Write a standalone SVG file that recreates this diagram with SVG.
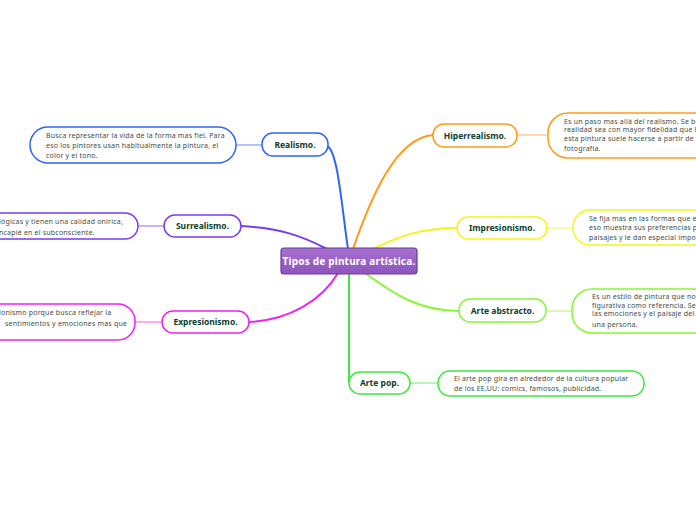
<svg xmlns="http://www.w3.org/2000/svg" width="696" height="520" viewBox="0 0 696 520">
<defs>
<linearGradient id="cg" x1="0" y1="0" x2="0" y2="1">
<stop offset="0" stop-color="#a870d0"/>
<stop offset="1" stop-color="#8e55bd"/>
</linearGradient>
<style>
.lbl{font-family:"Noto Sans","Open Sans",sans-serif;font-weight:bold;font-size:8.5px;fill:#0e3d2e;text-anchor:middle}
.dsc{font-family:"Noto Sans","Open Sans",sans-serif;font-size:7px;fill:#3f4d47;letter-spacing:0.2px}
.node{fill:#fff;stroke-width:1.5}
.main{fill:none;stroke-width:2}
.sub{fill:none;stroke-width:1.5;opacity:0.5}
</style>
</defs>
<rect width="696" height="520" fill="#fff"/>
<g id="connectors">
<path class="main" stroke="#2f66f5" d="M327,146 C338,150 342,210 348,249"/>
<path class="main" stroke="#7c3af0" d="M241,226 C280,228 302,236 327,249"/>
<path class="main" stroke="#ee22ee" d="M249,322 C290,320 322,300 338,273"/>
<path class="main" stroke="#ff9a1a" d="M353,249 C370,200 395,138 433,135"/>
<path class="main" stroke="#f5f51a" d="M373,249 C400,236 420,228 457,228"/>
<path class="main" stroke="#88f535" d="M365,273 C395,295 420,311 459,311"/>
<path class="main" stroke="#3ee83e" d="M349,273 L349,383"/>
<path class="sub" stroke="#2f66f5" d="M236,145 L262,145"/>
<path class="sub" stroke="#7c3af0" d="M138,226 L164,226"/>
<path class="sub" stroke="#ee22ee" d="M135,322 L162,322"/>
<path class="sub" stroke="#ff9a1a" d="M517,135 L548,135"/>
<path class="sub" stroke="#f5f51a" d="M547,228 L573,228"/>
<path class="sub" stroke="#88f535" d="M546,311 L572,311"/>
<path class="sub" stroke="#3ee83e" d="M410,383 L438,383"/>
</g>
<g id="center">
<rect x="281" y="248" width="136" height="26" rx="3" fill="url(#cg)" stroke="#6b3d93" stroke-width="1.2"/>
<text x="349" y="265" style="font-family:'Noto Sans','Open Sans',sans-serif;font-weight:bold;font-size:10px;fill:#fff;text-anchor:middle;letter-spacing:0.2px">Tipos de pintura artística.</text>
</g>
<g id="realismo">
<rect class="node" x="262" y="133" width="66" height="23" rx="11" stroke="#2f66f5"/>
<text class="lbl" x="295" y="148">Realismo.</text>
</g>
<g id="realismo-desc">
<rect class="node" x="30" y="127" width="206" height="36" rx="18" stroke="#2f66f5"/>
<text class="dsc" x="46" y="137.5">Busca representar la vida de la forma mas fiel. Para</text>
<text class="dsc" x="46" y="147.5">eso los pintores usan habitualmente la pintura, el</text>
<text class="dsc" x="46" y="157.5">color y el tono.</text>
</g>
<g id="surrealismo">
<rect class="node" x="164" y="215" width="77" height="22" rx="11" stroke="#7c3af0"/>
<text class="lbl" x="202.5" y="229">Surrealismo.</text>
</g>
<g id="surrealismo-desc">
<rect class="node" x="-60" y="213" width="198" height="26" rx="13" stroke="#7c3af0"/>
<text class="dsc" x="-1" y="224">lógicas y tienen una calidad onírica,</text>
<text class="dsc" x="-1" y="234.5">ncapié en el subconsciente.</text>
</g>
<g id="expresionismo">
<rect class="node" x="162" y="311" width="87" height="22" rx="11" stroke="#ee22ee"/>
<text class="lbl" x="205.5" y="325">Expresionismo.</text>
</g>
<g id="expresionismo-desc">
<rect class="node" x="-60" y="304" width="195" height="36" rx="17" stroke="#ee22ee"/>
<text class="dsc" x="-1" y="315">ionismo porque busca reflejar la</text>
<text class="dsc" x="5" y="326">sentimientos y emociones mas que</text>
</g>
<g id="hiperrealismo">
<rect class="node" x="433" y="124" width="84" height="23" rx="11" stroke="#ff9a1a"/>
<text class="lbl" x="475" y="138.5">Hiperrealismo.</text>
</g>
<g id="hiperrealismo-desc">
<rect class="node" x="548" y="113" width="212" height="45" rx="20" stroke="#ff9a1a"/>
<text class="dsc" x="564" y="123.5">Es un paso mas allá del realismo. Se bu</text>
<text class="dsc" x="564" y="132">realidad sea con mayor fidelidad que la</text>
<text class="dsc" x="564" y="140.5">esta pintura suele hacerse a partir de u</text>
<text class="dsc" x="564" y="151">fotografía.</text>
</g>
<g id="impresionismo">
<rect class="node" x="457" y="217" width="90" height="22" rx="11" stroke="#f5f51a"/>
<text class="lbl" x="502" y="231">Impresionismo.</text>
</g>
<g id="impresionismo-desc">
<rect class="node" x="573" y="210" width="187" height="35" rx="17" stroke="#f5f51a"/>
<text class="dsc" x="589" y="220.5">Se fija mas en las formas que en</text>
<text class="dsc" x="589" y="230">eso muestra sus preferencias p</text>
<text class="dsc" x="589" y="239.5">paisajes y le dan especial impor</text>
</g>
<g id="arte-abstracto">
<rect class="node" x="459" y="299" width="87" height="23" rx="11" stroke="#88f535"/>
<text class="lbl" x="502.5" y="313.5">Arte abstracto.</text>
</g>
<g id="arte-abstracto-desc">
<rect class="node" x="572" y="289" width="188" height="44" rx="20" stroke="#88f535"/>
<text class="dsc" x="592" y="299">Es un estilo de pintura que no</text>
<text class="dsc" x="592" y="307.5">figurativa como referencia. Se</text>
<text class="dsc" x="592" y="316">las emociones y el paisaje del</text>
<text class="dsc" x="592" y="326.5">una persona.</text>
</g>
<g id="arte-pop">
<rect class="node" x="349" y="372" width="61" height="22" rx="11" stroke="#3ee83e"/>
<text class="lbl" x="379.5" y="386">Arte pop.</text>
</g>
<g id="arte-pop-desc">
<rect class="node" x="438" y="371" width="206" height="25" rx="12" stroke="#3ee83e"/>
<text class="dsc" x="454" y="381">El arte pop gira en alrededor de la cultura popular</text>
<text class="dsc" x="454" y="391">de los EE.UU: comics, famosos, publicidad.</text>
</g>
</svg>
